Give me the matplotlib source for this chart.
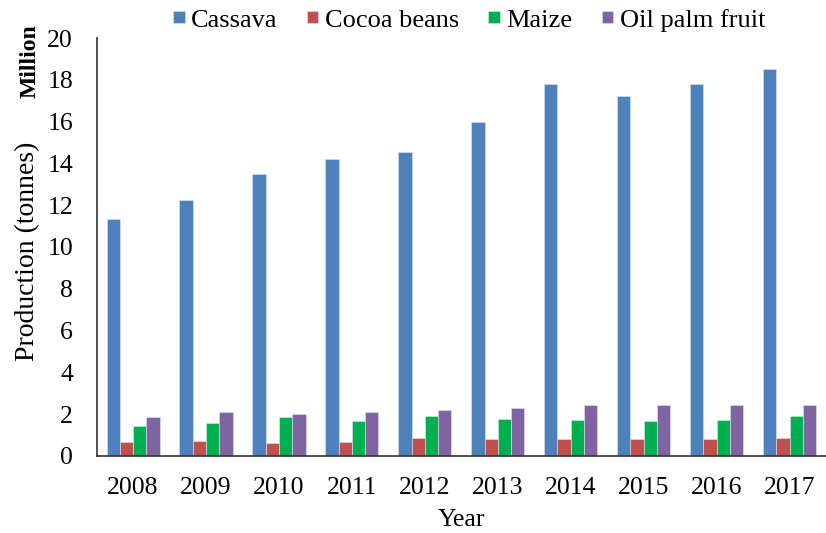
import numpy as np
import matplotlib
matplotlib.use("Agg")
import matplotlib.pyplot as plt

plt.rcParams['font.family'] = ['Liberation Serif', 'DejaVu Serif']

years = ['2008', '2009', '2010', '2011', '2012', '2013', '2014', '2015', '2016', '2017']
cassava = [11.34, 12.25, 13.5, 14.2, 14.55, 16.0, 17.8, 17.24, 17.8, 18.5]
cocoa = [0.67, 0.70, 0.61, 0.69, 0.86, 0.80, 0.83, 0.83, 0.83, 0.86]
maize = [1.45, 1.59, 1.85, 1.66, 1.93, 1.75, 1.74, 1.66, 1.71, 1.93]
oil_palm = [1.87, 2.09, 2.0, 2.1, 2.19, 2.31, 2.42, 2.42, 2.42, 2.45]

series = [("Cassava", cassava, "#4F81BD"),
          ("Cocoa beans", cocoa, "#C0504D"),
          ("Maize", maize, "#00B050"),
          ("Oil palm fruit", oil_palm, "#8064A2")]

fs = 18.5
fig = plt.figure(figsize=(8.26, 5.33), dpi=100)
ax = fig.add_axes([0.117, 0.1445, 0.883, 0.7842])

x = np.arange(len(years))
w = 0.182
for i, (name, vals, col) in enumerate(series):
    ax.bar(x + (i - 1.5) * w, vals, w, color=col, label=name,
           edgecolor="#dde6f2", linewidth=0.4)

ax.set_xlim(-0.5, len(years) - 0.5)
ax.set_ylim(0, 20)
ax.set_yticks(np.arange(0, 21, 2))
ax.set_xticks(x)
ax.set_xticklabels(years)
ax.tick_params(axis='both', length=0, labelsize=fs)
ax.tick_params(axis='y', pad=17)
ax.tick_params(axis='x', pad=15)
for s in ['top', 'right']:
    ax.spines[s].set_visible(False)
for s in ['left', 'bottom']:
    ax.spines[s].set_linewidth(1.2)
    ax.spines[s].set_color("#333333")

ax.set_xlabel("Year", fontsize=fs, labelpad=7)
fig.text(0.034, 0.529, "Production (tonnes)", rotation=90, fontsize=20,
         ha='center', va='center')
fig.text(0.037, 0.886, "Million", rotation=90, fontsize=17, fontweight='bold',
         ha='center', va='center')

fig.legend(loc='center', bbox_to_anchor=(0.568, 0.962), ncol=4, frameon=False,
           fontsize=19, handlelength=0.44, handleheight=0.3, handletextpad=0.25,
           columnspacing=1.1)

fig.savefig("out.png", dpi=100)
